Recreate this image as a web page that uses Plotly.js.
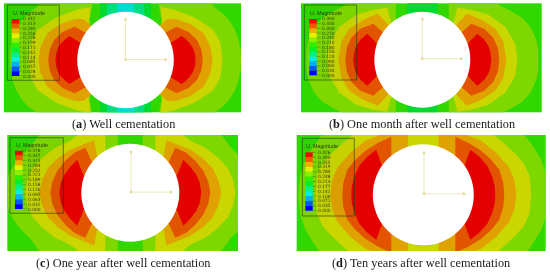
<!DOCTYPE html>
<html><head><meta charset="utf-8">
<script src="https://cdn.plot.ly/plotly-3.0.1.min.js"></script>
<style>html,body{margin:0;padding:0;background:#fff}#c{width:550px;height:274px;filter:blur(0.4px)}</style>
</head><body><div id="c"></div>
<script>
// Contour level colours, highest level first
const levelColors=['#e40000','#e25400','#e0a200','#c9d600','#7ed800','#30d800','#00da30','#00dc80','#00dcd0','#00a8f0','#0058f0','#0000f0'];
const swatchColors=['#f00a00','#f05a00','#f0b000','#e6f000','#88f000','#2cf000','#00f02c','#00f088','#00f0e0','#00b0f8','#0058f8','#0000ff'];

const captions=['(<b>a</b>) Well cementation','(<b>b</b>) One month after well cementation','(<b>c</b>) One year after well cementation','(<b>d</b>) Ten years after well cementation'];
const legendA=['0.342','0.313','0.285','0.256','0.228','0.199','0.171','0.142','0.114','0.085','0.057','0.028','0.000'];
const legendB=['0.360','0.330','0.300','0.270','0.240','0.210','0.180','0.150','0.120','0.090','0.060','0.030','0.000'];
const legendC=['0.378','0.347','0.315','0.284','0.252','0.221','0.189','0.158','0.126','0.095','0.063','0.032','0.000'];
const legendD=['0.426','0.390','0.355','0.319','0.284','0.248','0.213','0.177','0.142','0.106','0.071','0.035','0.000'];

// Contour outlines: one quadrant (distance from hole centre)
const aCyan=[[0,36],[0,62],[8,62],[9,40]];
const aTeal=[[0,36],[0,62],[18,62],[19,40]];
const aSpring=[[0,36],[0,62],[25,62],[26,38]];
const aLime=[[34,28],[36,40],[32,62],[80,62],[90,52],[98,46],[104,39],[109,31],[113,20],[115,10],[115.5,0]];
const aYellow=[[32,30],[37,34],[35,53],[46,51],[55,48],[66,44],[75,39],[88,30],[95,17],[97,0]];
const aOrange=[[30,30],[34,34],[42,41],[50,41],[65,36],[78,27],[85,13],[87,0]];
const aDark=[[35,20],[39,27],[51,33.3],[63,28],[71.5,20],[76,10],[77.3,0]];
const aRed=[[40,10],[45,17],[56,24],[60,21],[64,17],[67.5,12],[69.5,6],[70,0]];

const bPatch=[[0,30],[0,62],[15,62],[15,30]];
const bLime=[[24,30],[26.5,42],[26.5,62],[69,62],[76,55],[88,49],[100,42],[108,33],[114,20],[116,8],[116,0]];
const bYellow=[[28,30],[32,40],[35,52],[49,50],[66,45],[83,33],[93,16],[95,0]];
const bOrange=[[32,30],[35,36],[44.6,46],[59,40],[73,31],[81,18],[84,0]];
const bDark=[[36,22],[40,28],[49,36],[62,31],[71,22],[75.5,12],[77,0]];
const bRed=[[43,10],[47,18],[55,26],[62,20],[66,14],[68,8],[69,0]];

const cLime=[[12.5,30],[12.5,62],[88,62],[100,46],[112,34],[121,20],[125,0]];
const cYellow=[[25,30],[25,62],[47,62],[60,52],[75,45],[88,35],[98,24],[103,12],[105,0]];
const cOrange=[[30,30],[33.6,38],[36,52.5],[48,48],[60,43],[72,35],[82,25],[88,13],[91,0]];
const cDark=[[34,25],[38.6,31.5],[45,45],[56,40],[65,32],[73,22],[78,11],[80,0]];
const cRed=[[40,10],[47,18],[53,33],[60,26],[66,18],[69.5,10],[71,0]];

const dLime=[[0,30],[0,62],[100,62],[110,48],[118,35],[123,20],[125,0]];
const dYellow=[[0,30],[0,62],[68,62],[80,52],[92,41],[100,32],[106,20],[108,0]];
const dOrange=[[0,30],[0,62],[42,62],[45,59],[58,54],[73,42],[86,27],[91,15],[93,0]];
const dCap=[[0,30],[0,62],[15,62],[16,30]];
const dDark=[[30,30],[32,39],[32,58],[45,52],[58,44],[68,35],[76,25],[80,12],[81,0]];
const dRed=[[38,20],[42,31],[47,45],[56,38],[64,29],[69,18],[71.5,8],[72,0]];

// Panel frames and hole: left, right, top, bottom, centre x, centre y, hole radius
const frames=[
 {l:4,r:241,t:3.3,b:112.3,cx:125.5,cy:60,rad:48.3,tri:[0,0.5,40,40]},
 {l:301,r:541.7,t:3.3,b:112.3,cx:422.3,cy:59.7,rad:48,tri:[0,1,39,39.5]},
 {l:7.3,r:238,t:135,b:251,cx:130.3,cy:192.8,rad:49,tri:[0.7,0.7,40,40]},
 {l:296.7,r:545.7,t:135,b:251,cx:423.3,cy:194.8,rad:50.5,tri:[0.7,1,40,41]}];
const bandSets=[
 [[aLime,4],[aYellow,3],[aOrange,2],[aDark,1],[aRed,0],[aSpring,6],[aTeal,7],[aCyan,8]],
 [[bLime,4],[bYellow,3],[bOrange,2],[bDark,1],[bRed,0],[bPatch,6]],
 [[cLime,4],[cYellow,3],[cOrange,2],[cDark,1],[cRed,0]],
 [[dLime,4],[dYellow,3],[dOrange,2],[dCap,3],[dDark,1],[dRed,0]]];
const legendSets=[legendA,legendB,legendC,legendD];
const legendBoxes=[
 {l:7.3,r:59.3,t:5,b:80.3,sl:11.7,sr:19.3,st:19,sb:76,tx:22,hy:13},
 {l:304.3,r:356.7,t:5,b:80,sl:309.3,sr:316.7,st:19,sb:75.3,tx:321,hy:13},
 {l:10,r:63.3,t:137.7,b:213.3,sl:15,sr:22.7,st:150.7,sb:209,tx:26.7,hy:145},
 {l:302.3,r:354.3,t:138.3,b:216,sl:305.3,sr:312.7,st:152.3,sb:210.7,tx:316.7,hy:146}];
const captionSpots=[[123.5,124.5],[421.7,124.5],[123,263.3],[421,263.3]];

const W=550,H=274,px=x=>x/W,py=y=>1-y/H;
const traces=[],shapes=[],annotations=[];
const layout={width:W,height:H,margin:{l:0,r:0,t:0,b:0},paper_bgcolor:'#fff',plot_bgcolor:'#30d800',showlegend:false,hovermode:false,shapes,annotations};

function lobes(q){
  const xs=[],ys=[];
  const right=q.concat(q.slice().reverse().map(p=>[p[0],-p[1]]));
  right.forEach(p=>{xs.push(p[0]);ys.push(p[1]);});
  xs.push(null);ys.push(null);
  right.forEach(p=>{xs.push(-p[0]);ys.push(p[1]);});
  return {xs,ys};
}
frames.forEach((f,i)=>{
  const n=i+1,xa='x'+n,ya='y'+n;
  layout['xaxis'+n]={domain:[px(f.l),px(f.r)],range:[f.l-f.cx,f.r-f.cx],visible:false,fixedrange:true,anchor:ya};
  layout['yaxis'+n]={domain:[py(f.b),py(f.t)],range:[f.cy-f.b,f.cy-f.t],visible:false,fixedrange:true,anchor:xa};
  bandSets[i].forEach(([q,lv])=>{
    const {xs,ys}=lobes(q);
    traces.push({type:'scatter',mode:'none',x:xs,y:ys,fill:'toself',fillcolor:levelColors[lv],xaxis:xa,yaxis:ya,hoverinfo:'skip'});
  });
  traces.push({type:'scatter',mode:'markers',x:[0],y:[0],marker:{size:f.rad*2,color:'#fff',line:{width:0}},xaxis:xa,yaxis:ya,hoverinfo:'skip'});
  const [ox,oy,rx,uy]=f.tri;
  traces.push({type:'scatter',mode:'lines+markers',x:[ox,ox,ox+rx],y:[oy+uy,oy,oy],line:{color:'#efe9bc',width:1},marker:{size:2.5,symbol:'square',color:'#e4dc9c'},xaxis:xa,yaxis:ya,hoverinfo:'skip'});

  const b=legendBoxes[i],labels=legendSets[i];
  shapes.push({type:'rect',xref:'paper',yref:'paper',x0:px(b.l),x1:px(b.r),y0:py(b.b),y1:py(b.t),line:{color:'rgba(30,50,30,0.75)',width:0.8},fillcolor:'rgba(0,0,0,0.02)'});
  const h=(b.sb-b.st)/swatchColors.length;
  swatchColors.forEach((c,k)=>{
    shapes.push({type:'rect',xref:'paper',yref:'paper',x0:px(b.sl),x1:px(b.sr),y0:py(b.st+h*(k+1)),y1:py(b.st+h*k),line:{width:0},fillcolor:c});
  });
  labels.forEach((t,k)=>{
    const y=b.st+h*k;
    shapes.push({type:'line',xref:'paper',yref:'paper',x0:px(b.sr),x1:px(b.tx-0.5),y0:py(y),y1:py(y),line:{color:'rgba(40,60,20,0.6)',width:0.5}});
    annotations.push({xref:'paper',yref:'paper',x:px(b.tx),y:py(y),xanchor:'left',yanchor:'middle',showarrow:false,text:t,font:{family:'DejaVu Sans',size:4.4,color:'#33420f'},borderpad:0});
  });
  annotations.push({xref:'paper',yref:'paper',x:px(b.sl),y:py(b.hy),xanchor:'left',yanchor:'middle',showarrow:false,text:'U, Magnitude',font:{family:'Liberation Sans',size:5.4,color:'#2c3c14'},borderpad:0});
  const [cpx,cpy]=captionSpots[i];
  annotations.push({xref:'paper',yref:'paper',x:px(cpx),y:py(cpy),xanchor:'center',yanchor:'middle',showarrow:false,text:captions[i],font:{family:'Liberation Serif',size:12.3,color:'#1a1a1a'}});
});
Plotly.newPlot('c',traces,layout,{staticPlot:true,displayModeBar:false});
</script></body></html>
